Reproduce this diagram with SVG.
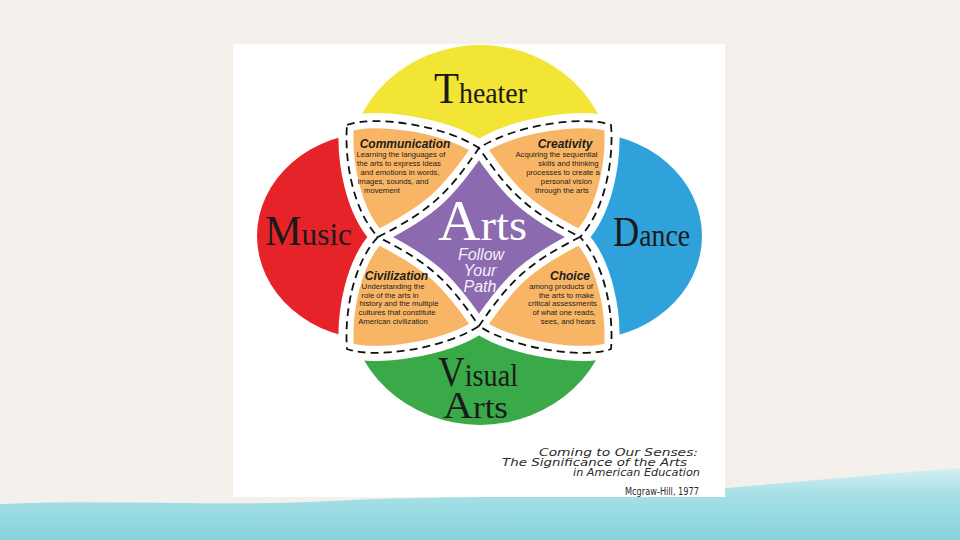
<svg xmlns="http://www.w3.org/2000/svg" width="960" height="540" viewBox="0 0 960 540">
<defs>
<linearGradient id="teal" x1="0" y1="0" x2="0" y2="1">
<stop offset="0" stop-color="#d6f0f2"/>
<stop offset="0.35" stop-color="#a8e0e6"/>
<stop offset="1" stop-color="#86d3dc"/>
</linearGradient>
<path id="cluster" d="M-132,-112 C-105,-122 -35,-112 0,-89 C35,-112 105,-122 132,-112 C135,-75 125,-25 101,0 C125,25 135,75 132,112 C105,122 35,112 0,89 C-35,112 -105,122 -132,112 C-135,75 -125,25 -101,0 C-125,-25 -135,-75 -132,-112 Z"/>
<path id="star" d="M-101,0 C-48.3,-26.8 -31.4,-43 0,-89 C31.4,-43 48.3,-26.8 101,0 C48.3,26.8 31.4,43 0,89 C-31.4,43 -48.3,26.8 -101,0 Z"/>
<style>
.lbl{font-family:"Liberation Serif","DejaVu Serif",serif;fill:#1a1a1a}
.h{font-family:"Liberation Sans",Arial,sans-serif;font-weight:bold;font-style:italic;font-size:12px;fill:#1c1c1c;text-anchor:middle}
.b{font-family:"Liberation Sans",Arial,sans-serif;font-size:7.7px;fill:#1e1e1e;text-anchor:middle}
.band{fill:none;stroke:#fff;stroke-width:14;stroke-linejoin:round}
.dash{fill:none;stroke:#111;stroke-width:1.8;stroke-dasharray:8 5;stroke-linejoin:miter}
.petal{fill:#f8b565}
.fy{font-family:"Liberation Sans",Arial,sans-serif;font-style:italic;font-size:16px;fill:#f4eff9;text-anchor:middle}
.cite{font-family:"DejaVu Sans",sans-serif;font-size:10px;fill:#2b2b2b;text-anchor:end}
</style>
</defs>

<rect x="0" y="0" width="960" height="540" fill="#f4f1ec"/>
<path d="M0,504 C120,499 220,507 330,501 C450,495 560,499 700,490 C800,482 880,474 960,468 L960,540 L0,540 Z" fill="url(#teal)"/>
<rect x="233" y="44" width="492" height="453" fill="#ffffff"/>

<g id="theater">
<ellipse cx="480" cy="170" rx="132" ry="125" fill="#f3e535"/>
<text class="lbl" x="434" y="103" textLength="93" lengthAdjust="spacingAndGlyphs"><tspan font-size="44">T</tspan><tspan font-size="30">heater</tspan></text>
</g>
<g id="visual-arts">
<ellipse cx="480" cy="301" rx="132" ry="124" fill="#3aaa48"/>
<text class="lbl"><tspan x="438" y="386" textLength="80" lengthAdjust="spacingAndGlyphs"><tspan font-size="42">V</tspan><tspan font-size="32">isual</tspan></tspan><tspan x="443" y="418" textLength="65" lengthAdjust="spacingAndGlyphs"><tspan font-size="38">A</tspan><tspan font-size="32">rts</tspan></tspan></text>
</g>
<g id="music">
<ellipse cx="377" cy="236" rx="120" ry="104" fill="#e52329"/>
<text class="lbl" x="265" y="245" textLength="87" lengthAdjust="spacingAndGlyphs"><tspan font-size="42">M</tspan><tspan font-size="32">usic</tspan></text>
</g>
<g id="dance">
<ellipse cx="582" cy="236" rx="120" ry="104" fill="#2fa2dc"/>
<text class="lbl" x="613" y="246" textLength="77" lengthAdjust="spacingAndGlyphs"><tspan font-size="42">D</tspan><tspan font-size="32">ance</tspan></text>
</g>

<g id="petal-base" transform="translate(479,237)">
<use href="#cluster" fill="#fff" stroke="#fff" stroke-width="16" stroke-linejoin="round"/>
</g>

<g id="communication">
<path class="petal" transform="translate(479,237)" d="M-132,-112 C-105,-122 -35,-112 0,-89 C-31.4,-43 -48.3,-26.8 -101,0 C-125,-25 -135,-75 -132,-112 Z"/>
</g>
<g id="creativity">
<path class="petal" transform="translate(479,237)" d="M0,-89 C35,-112 105,-122 132,-112 C135,-75 125,-25 101,0 C48.3,-26.8 31.4,-43 0,-89 Z"/>
</g>
<g id="choice">
<path class="petal" transform="translate(479,237)" d="M101,0 C125,25 135,75 132,112 C105,122 35,112 0,89 C31.4,43 48.3,26.8 101,0 Z"/>
</g>
<g id="civilization">
<path class="petal" transform="translate(479,237)" d="M0,89 C-35,112 -105,122 -132,112 C-135,75 -125,25 -101,0 C-48.3,26.8 -31.4,43 0,89 Z"/>
</g>
<g id="arts-center">
<use href="#star" transform="translate(479,237)" fill="#8b6ab0"/>
</g>

<g id="outlines" transform="translate(479,237)">
<use href="#star" class="band"/>
<use href="#cluster" class="band"/>
<use href="#cluster" class="dash"/>
<use href="#star" class="dash"/>
</g>

<g id="communication-text">
<text class="h" x="405" y="148">Communication</text>
<text class="b"><tspan x="401" y="157">Learning the languages of</tspan><tspan x="399" y="166">the arts to express ideas</tspan><tspan x="400" y="175">and emotions in words,</tspan><tspan x="393" y="184">images, sounds, and</tspan><tspan x="382" y="193">movement</tspan></text>
</g>
<g id="creativity-text">
<text class="h" x="565" y="148">Creativity</text>
<text class="b"><tspan x="556.5" y="156.5">Acquiring the sequential</tspan><tspan x="568.5" y="165.5">skills and thinking</tspan><tspan x="563" y="174.5">processes to create a</tspan><tspan x="566.5" y="183.5">personal vision</tspan><tspan x="562" y="192.5">through the arts</tspan></text>
</g>
<g id="civilization-text">
<text class="h" x="396.5" y="280">Civilization</text>
<text class="b"><tspan x="393" y="288.5">Understanding the</tspan><tspan x="390" y="297.5">role of the arts in</tspan><tspan x="399" y="306">history and the multiple</tspan><tspan x="397" y="314.5">cultures that constitute</tspan><tspan x="393" y="323.5">American civilization</tspan></text>
</g>
<g id="choice-text">
<text class="h" x="570" y="280">Choice</text>
<text class="b"><tspan x="561" y="289">among products of</tspan><tspan x="566.5" y="297.5">the arts to make</tspan><tspan x="562.5" y="306">critical assessments</tspan><tspan x="564" y="315">of what one reads,</tspan><tspan x="568" y="324">sees, and hears</tspan></text>
</g>
<g id="arts-center-text">
<text class="lbl" x="438" y="240" textLength="89" lengthAdjust="spacingAndGlyphs" style="fill:#ffffff"><tspan font-size="56">A</tspan><tspan font-size="44">rts</tspan></text>
<text class="fy"><tspan x="481" y="260">Follow</tspan><tspan x="480" y="276">Your</tspan><tspan x="480" y="292">Path</tspan></text>
</g>

<g id="citation">
<text class="cite"><tspan x="698" y="456" font-style="italic" textLength="159" lengthAdjust="spacingAndGlyphs">Coming to Our Senses:</tspan><tspan x="687" y="466" font-style="italic" textLength="185" lengthAdjust="spacingAndGlyphs">The Significance of the Arts</tspan><tspan x="700" y="476" font-style="italic" textLength="127" lengthAdjust="spacingAndGlyphs">in American Education</tspan><tspan x="699" y="495" textLength="74" lengthAdjust="spacingAndGlyphs">Mcgraw-Hill, 1977</tspan></text>
</g>
</svg>
